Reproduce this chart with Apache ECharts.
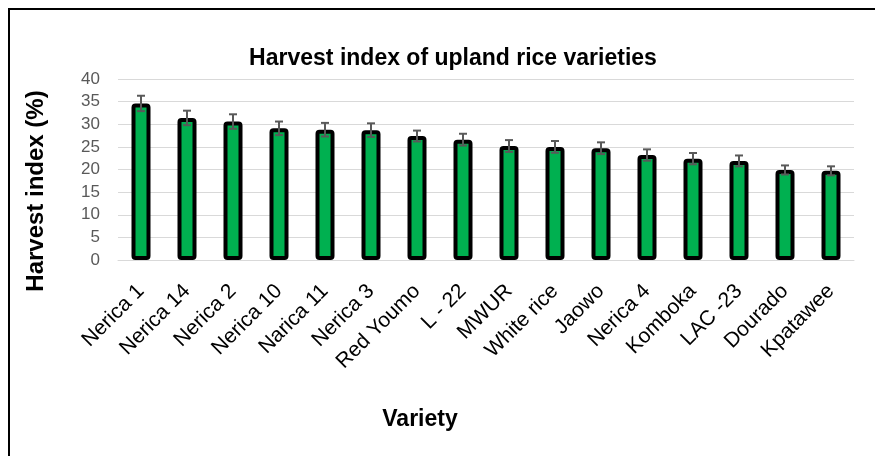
<!DOCTYPE html>
<html>
<head>
<meta charset="utf-8">
<script src="https://cdn.jsdelivr.net/npm/echarts@6/dist/echarts.min.js"></script>
<style>
  html, body { margin: 0; padding: 0; background: #fff; }
  #chart { width: 875px; height: 456px; }
</style>
</head>
<body>
<div id="chart"></div>
<script>
const varieties = ['Nerica 1', 'Nerica 14', 'Nerica 2', 'Nerica 10', 'Narica 11', 'Nerica 3', 'Red Youmo', 'L - 22',
  'MWUR', 'White rice', 'Jaowo', 'Nerica 4', 'Komboka', 'LAC -23', 'Dourado', 'Kpatawee']
const harvestIndex = [34.6, 31.4, 30.6, 29.1, 28.8, 28.7, 27.4, 26.6, 25.2, 25.0, 24.7, 23.2, 22.4, 21.9, 19.9, 19.7]
const stdErr = [1.7, 1.6, 1.6, 1.5, 1.5, 1.5, 1.2, 1.3, 1.3, 1.3, 1.3, 1.25, 1.25, 1.2, 1.0, 1.0]

const font = 'Liberation Sans, Arial'
const myChart = echarts.init(document.getElementById('chart'))

const option = {
  animation: false,
  backgroundColor: '#fff',
  title: {
    text: 'Harvest index of upland rice varieties',
    left: 448,
    top: 42,
    textAlign: 'center',
    textStyle: { fontFamily: font, fontSize: 23, fontWeight: 'bold', color: '#000' },
  },
  graphic: [
    {
      type: 'rect',
      shape: { x: 9, y: 9, width: 900, height: 500 },
      style: { fill: 'none', stroke: '#000', lineWidth: 2 },
      silent: true,
    },
    // axis titles, placed where the original has them
    {
      type: 'text',
      x: 36,
      y: 191,
      rotation: Math.PI / 2,
      style: {
        text: 'Harvest index (%)',
        font: 'bold 24px ' + font,
        fill: '#000',
        textAlign: 'center',
        textVerticalAlign: 'middle',
      },
      silent: true,
    },
    {
      type: 'text',
      x: 420,
      y: 420,
      style: {
        text: 'Variety',
        font: 'bold 23px ' + font,
        fill: '#000',
        textAlign: 'center',
        textVerticalAlign: 'middle',
      },
      silent: true,
    },
  ],
  grid: { left: 118, right: 21, top: 79, bottom: 196 },
  xAxis: {
    type: 'category',
    data: varieties,
    axisLine: { lineStyle: { color: '#d9d9d9', width: 1 } },
    axisTick: { show: false },
    axisLabel: {
      rotate: 45,
      interval: 0,
      margin: 28,
      fontFamily: font,
      fontSize: 21,
      color: '#000',
    },
  },
  yAxis: {
    type: 'value',
    min: 0,
    max: 40,
    interval: 5,
    axisLine: { show: false },
    axisTick: { show: false },
    axisLabel: { fontFamily: font, fontSize: 17, color: '#595959', margin: 18 },
    splitLine: { lineStyle: { color: '#d9d9d9', width: 1 } },
  },
  series: [
    {
      name: 'Harvest index',
      type: 'bar',
      data: harvestIndex,
      barWidth: 19,
      itemStyle: { color: '#00b050', borderColor: '#000', borderWidth: 4, borderRadius: 2 },
    },
    {
      name: 'Error',
      type: 'custom',
      data: harvestIndex.map((v, i) => [i, v - stdErr[i], v + stdErr[i]]),
      z: 10,
      renderItem(params, api) {
        const lo = api.coord([api.value(0), api.value(1)])
        const hi = api.coord([api.value(0), api.value(2)])
        const half = 4
        const st = { stroke: '#595959', lineWidth: 2 }
        return {
          type: 'group',
          children: [
            { type: 'line', shape: { x1: lo[0], y1: lo[1], x2: hi[0], y2: hi[1] }, style: st },
            { type: 'line', shape: { x1: hi[0] - half, y1: hi[1], x2: hi[0] + half, y2: hi[1] }, style: st },
            { type: 'line', shape: { x1: lo[0] - half, y1: lo[1], x2: lo[0] + half, y2: lo[1] }, style: st },
          ],
        }
      },
    },
  ],
}

myChart.setOption(option, true)
</script>
</body>
</html>
